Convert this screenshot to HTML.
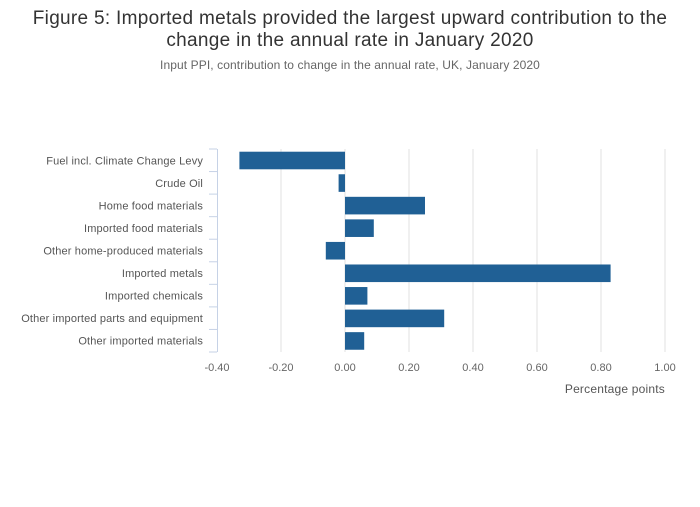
<!DOCTYPE html>
<html><head><meta charset="utf-8"><style>
body{margin:0;background:#fff;font-family:"Liberation Sans",sans-serif}
svg text{font-family:"Liberation Sans",sans-serif}
</style></head><body>
<svg width="700" height="502">
<text x="350" y="24" text-anchor="middle" font-size="19" letter-spacing="0.3" fill="#333">Figure 5: Imported metals provided the largest upward contribution to the</text>
<text x="350" y="46" text-anchor="middle" font-size="19" letter-spacing="0.3" fill="#333">change in the annual rate in January 2020</text>
<text x="350" y="69" text-anchor="middle" font-size="12" letter-spacing="0.1" fill="#666">Input PPI, contribution to change in the annual rate, UK, January 2020</text>
<g id="grid"></g>
<g id="bars"></g>
<g id="axes"></g>
<text x="665" y="393" text-anchor="end" font-size="12" letter-spacing="0.2" fill="#555">Percentage points</text>
</svg>
<script>
const categories=["Fuel incl. Climate Change Levy","Crude Oil","Home food materials","Imported food materials","Other home-produced materials","Imported metals","Imported chemicals","Other imported parts and equipment","Other imported materials"];
const values=[-0.33,-0.02,0.25,0.09,-0.06,0.83,0.07,0.31,0.06];
const ticks=[-0.4,-0.2,0,0.2,0.4,0.6,0.8,1.0];
const NS="http://www.w3.org/2000/svg";
const x0=217,x1=665,dmin=-0.4,dmax=1.0,plotTop=149,plotBot=352;
const xs=v=>x0+(v-dmin)/(dmax-dmin)*(x1-x0);
const band=(plotBot-plotTop)/categories.length;
const ys=i=>plotTop+i*band;
function mk(t,a,p){const e=document.createElementNS(NS,t);for(const k in a)e.setAttribute(k,a[k]);p.appendChild(e);return e;}
const g=document.getElementById('grid'),b=document.getElementById('bars'),ax=document.getElementById('axes');
ticks.forEach(t=>{
 const X=xs(t);
 if(t>dmin){const l=mk('line',{x1:X,x2:X,y1:plotTop,y2:plotBot,stroke:'#e2e2e2','stroke-width':1},g);
 
 }
 const tx=mk('text',{x:X,y:371,'text-anchor':'middle','font-size':11,fill:'#666'},ax);
 tx.textContent=t.toFixed(2);
 
 
});
categories.forEach((c,i)=>{
 const v=values[i],y=ys(i)+band*0.12,h=band*0.78;
 const r=mk('rect',{x:Math.min(xs(0),xs(v)),y:y,width:Math.abs(xs(v)-xs(0)),height:h,fill:'#206095'},b);
 
 
 const t=mk('text',{x:203,y:ys(i)+band/2+4,'text-anchor':'end','font-size':11,'letter-spacing':0.15,fill:'#555'},ax);
 t.textContent=c;
 
 
});
mk('line',{x1:x0+0.5,x2:x0+0.5,y1:plotTop,y2:plotBot,stroke:'#c6d2e6'},ax);
for(let i=0;i<=categories.length;i++){const Y=ys(i);mk('line',{x1:209,x2:x0,y1:Y,y2:Y,stroke:'#c6d2e6'},ax);}
</script>
</body></html>
